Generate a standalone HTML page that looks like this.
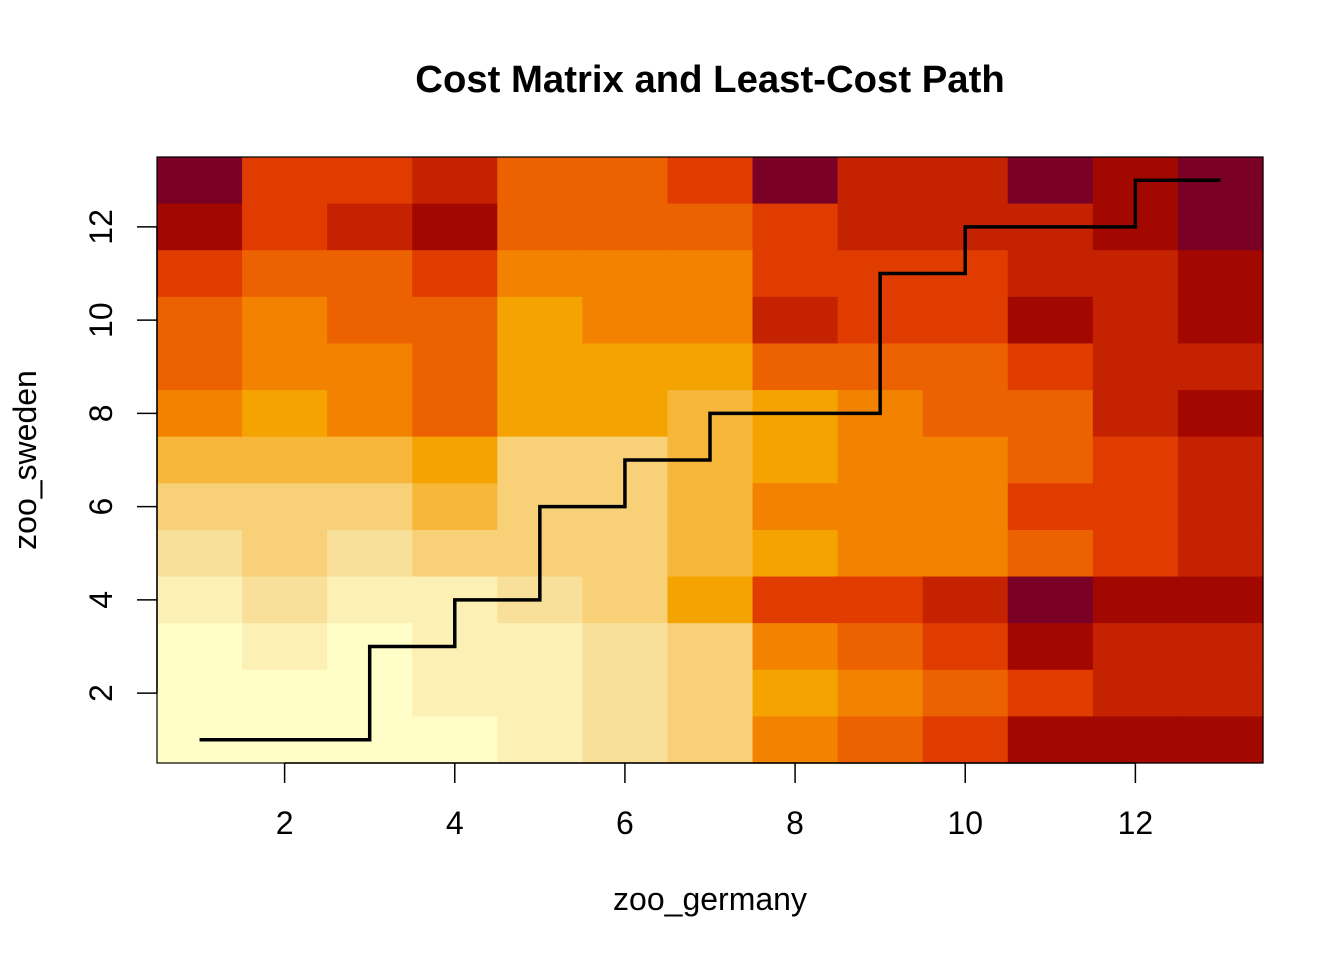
<!DOCTYPE html>
<html><head><meta charset="utf-8"><style>
body{margin:0;background:#fff}
svg{display:block}
text{font-family:"Liberation Sans",sans-serif;fill:#000}
</style></head><body>
<svg id="s" width="1344" height="960" xmlns="http://www.w3.org/2000/svg">
<text x="710" y="92" font-size="38.3" font-weight="bold" text-anchor="middle">Cost Matrix and Least-Cost Path</text>
<text x="710" y="910" font-size="32" text-anchor="middle">zoo_germany</text>
<text transform="translate(36,460) rotate(-90)" font-size="32" text-anchor="middle">zoo_sweden</text>
<g id="cells"></g>
<rect x="157" y="157" width="1106" height="606" fill="none" stroke="#000" stroke-width="1.2"/>
<g id="ax" stroke="#000" stroke-width="1.5" fill="none"></g>
<g id="lab" font-size="32"></g>
<polyline id="path" fill="none" stroke="#000" stroke-width="3.5"/>
</svg>
<script>
var C=["#7a0026","#a30800","#c42200","#e03c00","#ec6200","#f28200","#f5a300","#f6b73a","#f7d078","#f9e09a","#fdf0b4","#fffdc8"];
var G=[
[0,3,3,2,4,4,3,0,2,2,0,1,0],
[1,3,2,1,4,4,4,3,2,2,2,1,0],
[3,4,4,3,5,5,5,3,3,3,2,2,1],
[4,5,4,4,6,5,5,2,3,3,1,2,1],
[4,5,5,4,6,6,6,4,4,4,3,2,2],
[5,6,5,4,6,6,7,6,5,4,4,2,1],
[7,7,7,6,8,8,7,6,5,5,4,3,2],
[8,8,8,7,8,8,7,5,5,5,3,3,2],
[9,8,9,8,8,8,7,6,5,5,4,3,2],
[10,9,10,10,9,8,6,3,3,2,0,1,1],
[11,10,11,10,10,9,8,5,4,3,1,2,2],
[11,11,11,10,10,9,8,6,5,4,3,2,2],
[11,11,11,11,10,9,8,5,4,3,1,1,1]];
var x0=157,y0=157,cw=1106/13,ch=606/13,h="";
for(var r=0;r<13;r++)for(var c=0;c<13;c++)
h+='<rect x="'+(x0+c*cw)+'" y="'+(y0+r*ch)+'" width="'+(cw+0.6)+'" height="'+(ch+0.6)+'" fill="'+C[G[r][c]]+'"/>';
document.getElementById("cells").innerHTML=h;
function X(i){return x0+(i-0.5)*cw}function Y(j){return 763-(j-0.5)*ch}
var a="",l="";
for(var k=2;k<=12;k+=2){
a+='<line x1="'+X(k)+'" y1="763" x2="'+X(k)+'" y2="783"/>';
l+='<text x="'+X(k)+'" y="834" text-anchor="middle">'+k+'</text>';
a+='<line x1="157" y1="'+Y(k)+'" x2="137" y2="'+Y(k)+'"/>';
l+='<text transform="translate(112,'+Y(k)+') rotate(-90)" text-anchor="middle">'+k+'</text>';}
a+='<line x1="'+X(2)+'" y1="763" x2="'+X(12)+'" y2="763"/>';
a+='<line x1="157" y1="'+Y(2)+'" x2="157" y2="'+Y(12)+'"/>';
document.getElementById("ax").innerHTML=a;document.getElementById("lab").innerHTML=l;
var P=[[1,1],[3,1],[3,3],[4,3],[4,4],[5,4],[5,6],[6,6],[6,7],[7,7],[7,8],[9,8],[9,11],[10,11],[10,12],[12,12],[12,13],[13,13]];
document.getElementById("path").setAttribute("points",P.map(function(p){return X(p[0])+","+Y(p[1])}).join(" "));
</script>
</body></html>
